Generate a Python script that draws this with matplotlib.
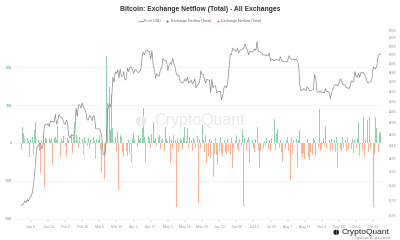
import matplotlib
matplotlib.use("Agg")
import matplotlib.pyplot as plt
from matplotlib.lines import Line2D
import numpy as np
import pandas as pd

plt.rcParams['font.family'] = ['Liberation Sans', 'DejaVu Sans']

start_date = "2023-01-01"

# BTC price (thousand USD), daily Jan 1 .. Oct 22 2023
price_k = [
    16.6, 16.7, 16.7, 16.9, 16.8, 17.0, 16.9, 17.1, 17.2, 17.4, 17.9, 18.8, 19.9, 20.9, 20.9, 21.2,
    21.1, 20.7, 21.1, 22.7, 22.8, 22.7, 22.9, 22.6, 23.1, 23.0, 23.1, 23.0, 23.7, 22.8, 23.1,
    23.7, 23.5, 23.4, 23.3, 22.9, 22.8, 23.2, 22.9, 21.8, 21.6, 21.9, 21.8, 21.8, 22.2, 24.3, 23.5,
    24.6, 24.6, 24.3, 24.8, 24.4, 24.2, 23.9, 23.2, 23.2, 23.6, 23.5, 23.1,
    23.6, 23.5, 22.4, 22.4, 22.4, 22.4, 22.2, 21.7, 20.4, 20.2, 20.6, 22.1, 24.2, 24.7, 24.4, 25.0,
    27.4, 26.9, 28.0, 27.8, 28.2, 27.3, 28.3, 27.5, 27.5, 28.0, 27.1, 27.3, 28.4, 28.0, 28.5,
    28.5, 28.2, 27.8, 28.2, 28.2, 28.0, 27.9, 28.0, 28.3, 29.7, 30.2, 29.9, 30.4, 30.5, 30.3, 30.3,
    29.4, 30.4, 28.8, 28.2, 27.3, 27.8, 27.6, 27.5, 28.3, 28.4, 29.5, 29.3, 29.2, 29.2,
    28.1, 28.7, 29.0, 28.8, 29.5, 28.9, 28.5, 27.7, 27.6, 27.6, 27.0, 26.8, 26.8, 26.9, 27.2, 27.0,
    27.4, 26.8, 26.9, 27.1, 26.7, 26.9, 27.2, 26.3, 26.5, 26.7, 26.9, 28.1, 27.7, 27.7, 27.2,
    26.8, 27.2, 27.1, 27.1, 25.8, 27.2, 26.3, 26.5, 26.5, 25.8, 25.9, 25.9, 25.9, 25.1, 25.6, 26.3,
    26.5, 26.3, 26.8, 28.3, 30.0, 29.9, 30.7, 30.5, 30.5, 30.3, 30.7, 30.1, 30.4, 30.5,
    30.6, 30.6, 31.2, 30.8, 30.5, 29.9, 30.3, 30.3, 30.2, 30.4, 30.6, 30.4, 31.5, 30.3, 30.3, 30.2,
    30.1, 29.9, 29.9, 29.8, 29.9, 29.8, 30.1, 29.2, 29.4, 29.3, 29.2, 29.3, 29.4, 29.3, 29.2,
    29.7, 29.2, 29.2, 29.1, 29.1, 29.1, 29.2, 29.8, 29.6, 29.4, 29.4, 29.4, 29.3, 29.4, 29.2, 28.7,
    26.6, 26.0, 26.1, 26.2, 26.1, 26.0, 26.4, 26.2, 26.0, 26.0, 26.1, 26.1, 27.7, 27.3, 25.9,
    25.8, 25.9, 26.0, 25.8, 25.8, 25.8, 26.2, 25.9, 25.9, 25.8, 25.2, 25.8, 26.2, 26.5, 26.6, 26.6,
    26.5, 26.8, 27.2, 27.1, 26.6, 26.6, 26.6, 26.3, 26.3, 26.2, 26.4, 27.0, 26.9, 27.0,
    28.0, 27.5, 27.4, 27.8, 27.4, 27.9, 27.9, 27.9, 27.6, 27.4, 26.9, 26.8, 26.9, 26.9, 27.2, 28.5,
    28.4, 28.3, 28.7, 29.7, 30.0, 30.0,
]

# Exchange netflow (thousand BTC), daily
netflow_k = [
    -1.8, 4.2, 2.6, 1.0, -0.9, 1.2, 0.6, -3.6, 0.9, 1.5,
    -3.2, 3.3, 5.5, -7.5, 1.0, -2.0, -8.0, 0.8, 2.0, -11.8,
    1.3, 1.1, -3.0, 1.4, 0.9, 1.3, -5.8, 1.2, 1.5, 0.7,
    4.5, -2.5, -3.7, 1.0, 0.6, 1.8, -0.8, -3.7, 1.2, 0.9,
    4.0, 2.2, -2.6, 1.5, 5.5, 2.0, 0.8, -1.2, 1.6, 0.5,
    1.0, -2.8, 1.7, 0.6, -0.9, 1.2, -1.5, 0.8, 0.7, 1.7,
    0.5, -4.2, 1.1, 0.9, 2.0, -1.8, -7.9, 1.5, -9.5, -3.0,
    23.0, 10.5, 14.7, 3.5, 13.0, 4.0, 2.5, 1.5, -2.0, 3.0,
    -12.4, 2.0, 1.5, -2.5, -3.8, 1.0, -2.2, -3.5, 0.8, -2.8,
    -5.0, 1.2, 2.5, 0.9, 1.4, -1.0, 2.0, 0.7, 1.3, 4.0,
    9.2, 1.5, -5.0, 0.8, 1.9, 1.2, -1.3, 2.4, 5.5, 0.9,
    1.4, -0.8, 1.6, 2.1, -1.5, 0.7, 1.2, -2.0, 4.3, 1.0,
    0.6, 1.8, -5.2, 1.1, -1.6, 2.0, 0.9, -16.8, 1.4, -2.5,
    1.2, 0.8, -1.8, 1.5, 4.3, 0.6, 4.0, -1.2, 1.7, 0.9,
    -2.1, 1.3, 0.7, -1.4, 1.9, -15.8, 1.1, -1.2, 4.7, 0.8,
    -2.5, 2.0, -5.3, -3.4, 1.0, -4.0, 0.6, -8.9, -2.8, 1.2,
    -3.2, -5.8, -2.0, 1.6, -2.6, -3.4, 0.9, -2.4, -3.0, 1.1,
    -2.2, -3.0, 1.3, -6.6, -1.2, 0.8, 2.0, -1.5, -2.2, 1.0,
    -0.8, 3.4, -16.6, 1.2, -2.0, 0.9, 1.5, -5.3, -1.0, 0.7,
    -1.4, -2.5, 1.1, 4.2, -1.8, -6.6, -2.2, 1.0, -1.2, 0.6,
    -0.9, 1.4, -1.5, 0.8, -2.0, 1.2, -1.0, 6.3, -1.8, 2.5,
    3.8, -1.2, 0.7, -2.4, -5.0, 1.1, -1.6, 0.9, 1.6, -2.0,
    -9.7, 1.3, -2.8, 0.8, -1.5, 1.0, -6.3, 0.7, 3.4, -3.0,
    -3.8, -2.6, -4.2, -3.1, 1.0, -3.6, -4.4, -2.5, -3.2, 1.2,
    0.9, -3.5, 4.9, -1.2, 9.0, -2.0, -1.6, 1.3, -1.0, 4.5,
    -1.4, -6.6, 0.8, -2.1, 1.1, -1.8, 0.7, -2.4, 1.5, -6.3,
    0.9, -1.6, -2.2, 1.5, -1.2, 0.8, -2.0, 1.2, -1.8, 0.6,
    -1.5, 1.0, -2.6, 0.9, -1.3, 1.4, 5.5, -3.5, 1.2, -1.8,
    6.8, -3.6, 1.1, 6.0, -2.4, 6.8, -1.5, 2.2, -17.0, -3.2,
    6.8, 4.0, -2.5, 2.8, 2.5,
]

left_ticks = [-20000, -10000, 0, 10000, 20000]
left_labels = ["-20K", "-10K", "0", "10K", "20K"]
right_ticks_k = [16, 17, 18, 19, 20, 21, 22, 23, 24, 25, 26, 27, 28, 29, 30, 31, 32, 33]
xtick_labels = ["Jan 9", "Jan 23", "Feb 6", "Feb 20", "Mar 6", "Mar 20", "Apr 3", "Apr 17",
                "May 1", "May 15", "May 29", "Jun 12", "Jun 26", "Jul 10", "Jul 24", "Aug 7",
                "Aug 21", "Sep 4", "Sep 18", "Oct 2", "Oct 16"]

dates = pd.date_range(start_date, periods=len(netflow_k), freq="D")
pdates = pd.date_range(start_date, periods=len(price_k), freq="D")
netflow = np.array(netflow_k) * 1000
price = np.array(price_k) * 1000

fig = plt.figure(figsize=(4, 2.4), dpi=100)
ax = fig.add_axes([15/400, 20/240, 368/400, 192/240])

pos = np.where(netflow > 0, netflow, 0)
neg = np.where(netflow < 0, netflow, 0)
ax.bar(dates, pos, width=0.75, color="#8fd3b1", linewidth=0, zorder=2)
ax.bar(dates, neg, width=0.75, color="#fbb293", linewidth=0, zorder=2)

ax.set_ylim(-20300, 30300)
ax.set_yticks(left_ticks)
ax.set_yticklabels(left_labels)
ax.grid(axis="y", color="#f3f3f3", linewidth=0.5, zorder=0)
ax.tick_params(axis="y", labelsize=2.6, colors="#3aa57a", length=0, pad=2)

xt = pd.to_datetime([f"2023 {s}" for s in xtick_labels], format="%Y %b %d")
ax.set_xticks(xt)
ax.set_xticklabels(xtick_labels)
ax.tick_params(axis="x", labelsize=2.6, colors="#999999", length=1.5, width=0.3, pad=2)
ax.set_xlim(pd.Timestamp(start_date) - pd.Timedelta(days=5), pd.Timestamp(start_date) + pd.Timedelta(days=296))
for s in ax.spines.values():
    s.set_visible(False)

ax2 = ax.twinx()
ax2.plot(pdates, price, color="#8a8a8a", linewidth=0.5, zorder=3)
ax2.set_yscale("log")
ax2.set_ylim(15700, 33200)
ax2.set_yticks([v * 1000 for v in right_ticks_k])
ax2.set_yticklabels([f"${v}K" for v in right_ticks_k])
ax2.minorticks_off()
ax2.tick_params(axis="y", labelsize=2.4, colors="#999999", length=0, pad=4)
for s in ax2.spines.values():
    s.set_visible(False)

# watermark
fig.text(0.5, 0.5, "CryptoQuant", fontsize=11.5, color="#ebebeb", ha="center", va="center", zorder=0)
fig.text(0.352, 0.5, "◖◗", fontsize=9, color="#ebebeb", ha="center", va="center", zorder=0,
         family=["DejaVu Sans"])

fig.suptitle("Bitcoin: Exchange Netflow (Total) - All Exchanges", y=0.975, fontsize=4.9,
             fontweight="bold", color="#333333")

handles = [
    Line2D([0], [0], color="#999999", lw=0.6),
    Line2D([0], [0], marker="o", color="w", markerfacecolor="#1a9e5f", markersize=2.5, lw=0),
    Line2D([0], [0], marker="o", color="w", markerfacecolor="#f26a2e", markersize=2.5, lw=0),
]
fig.legend(handles, ["Price USD", "Exchange Netflow (Total)", "Exchange Netflow (Total)"],
           loc="center", bbox_to_anchor=(0.5, 0.912), ncol=3, fontsize=2.6, frameon=False,
           handlelength=1.2, handletextpad=0.4, columnspacing=1.2, labelcolor="#666666")

fig.text(0.975, 0.032, "CryptoQuant", fontsize=6, color="#222222", ha="right", va="center")
fig.text(0.84, 0.032, "◖◗", fontsize=5, color="#222222", ha="center", va="center", family=["DejaVu Sans"])
fig.text(0.975, 0.008, "© CryptoQuant. All rights reserved", fontsize=1.8, color="#888888", ha="right", va="center")

fig.savefig("out.png", dpi=100)
